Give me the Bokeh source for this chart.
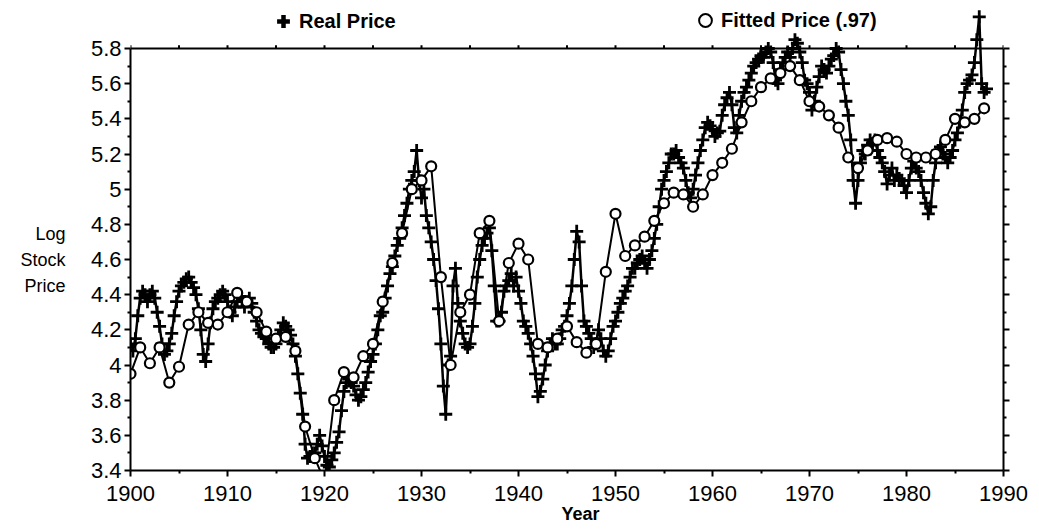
import numpy as np
from bokeh.plotting import figure
from bokeh.models import (Range1d, LinearAxis, FixedTicker, CustomJSTickFormatter,
                          Span, Legend, LegendItem)
from bokeh.embed import file_html
from bokeh.resources import INLINE

# ---------------- data ----------------
# Real price: quarterly readings starting 1900.0
real_start = 1900.0
real_step = 0.25
real_price = [
    4.12, 4.08, 4.15, 4.28,  # 1900
    4.38, 4.42, 4.40, 4.36,  # 1901
    4.40, 4.42, 4.38, 4.30,  # 1902
    4.22, 4.12, 4.06, 4.08,  # 1903
    4.12, 4.18, 4.28, 4.36,  # 1904
    4.42, 4.45, 4.47, 4.49,  # 1905
    4.50, 4.47, 4.44, 4.40,  # 1906
    4.32, 4.20, 4.06, 4.02,  # 1907
    4.12, 4.24, 4.32, 4.36,  # 1908
    4.38, 4.40, 4.42, 4.40,  # 1909
    4.36, 4.30, 4.28, 4.33,  # 1910
    4.36, 4.39, 4.36, 4.33,  # 1911
    4.36, 4.38, 4.35, 4.30,  # 1912
    4.25, 4.20, 4.18, 4.16,  # 1913
    4.15, 4.12, 4.10, 4.10,  # 1914
    4.12, 4.16, 4.20, 4.24,  # 1915
    4.22, 4.20, 4.17, 4.12,  # 1916
    4.05, 3.95, 3.84, 3.72,  # 1917
    3.55, 3.47, 3.48, 3.50,  # 1918
    3.50, 3.55, 3.60, 3.54,  # 1919
    3.48, 3.43, 3.42, 3.46,  # 1920
    3.50, 3.56, 3.62, 3.74,  # 1921
    3.85, 3.90, 3.92, 3.90,  # 1922
    3.88, 3.83, 3.80, 3.82,  # 1923
    3.86, 3.90, 3.96, 4.02,  # 1924
    4.06, 4.12, 4.20, 4.28,  # 1925
    4.30, 4.38, 4.45, 4.52,  # 1926
    4.56, 4.62, 4.68, 4.72,  # 1927
    4.78, 4.85, 4.92, 5.00,  # 1928
    5.05, 5.10, 5.22, 5.05,  # 1929
    4.95, 5.00, 4.85, 4.78,  # 1930
    4.70, 4.60, 4.48, 4.32,  # 1931
    4.12, 3.88, 3.72, 4.00,  # 1932
    4.05, 4.45, 4.55, 4.35,  # 1933
    4.25, 4.18, 4.12, 4.10,  # 1934
    4.12, 4.22, 4.35, 4.50,  # 1935
    4.60, 4.68, 4.72, 4.75,  # 1936
    4.78, 4.65, 4.45, 4.25,  # 1937
    4.25, 4.30, 4.42, 4.45,  # 1938
    4.48, 4.52, 4.45, 4.50,  # 1939
    4.42, 4.35, 4.25, 4.22,  # 1940
    4.18, 4.12, 4.05, 3.95,  # 1941
    3.82, 3.85, 3.92, 4.00,  # 1942
    4.08, 4.12, 4.15, 4.12,  # 1943
    4.12, 4.15, 4.20, 4.22,  # 1944
    4.28, 4.35, 4.45, 4.60,  # 1945
    4.76, 4.70, 4.45, 4.25,  # 1946
    4.22, 4.18, 4.15, 4.10,  # 1947
    4.12, 4.20, 4.15, 4.08,  # 1948
    4.05, 4.08, 4.15, 4.22,  # 1949
    4.25, 4.30, 4.35, 4.38,  # 1950
    4.42, 4.45, 4.50, 4.55,  # 1951
    4.55, 4.58, 4.60, 4.62,  # 1952
    4.58, 4.55, 4.60, 4.65,  # 1953
    4.72, 4.80, 4.90, 5.00,  # 1954
    5.05, 5.10, 5.15, 5.20,  # 1955
    5.20, 5.22, 5.18, 5.15,  # 1956
    5.12, 5.05, 4.98, 4.95,  # 1957
    5.00, 5.08, 5.15, 5.22,  # 1958
    5.28, 5.35, 5.38, 5.36,  # 1959
    5.34, 5.30, 5.32, 5.33,  # 1960
    5.42, 5.48, 5.52, 5.55,  # 1961
    5.48, 5.35, 5.32, 5.42,  # 1962
    5.50, 5.55, 5.58, 5.62,  # 1963
    5.66, 5.70, 5.72, 5.74,  # 1964
    5.76, 5.75, 5.78, 5.80,  # 1965
    5.78, 5.72, 5.62, 5.60,  # 1966
    5.68, 5.72, 5.75, 5.78,  # 1967
    5.75, 5.80, 5.85, 5.83,  # 1968
    5.78, 5.72, 5.62, 5.60,  # 1969
    5.55, 5.45, 5.50, 5.58,  # 1970
    5.64, 5.70, 5.68, 5.66,  # 1971
    5.70, 5.74, 5.76, 5.80,  # 1972
    5.78, 5.68, 5.60, 5.50,  # 1973
    5.42, 5.28, 5.05, 4.92,  # 1974
    5.05, 5.15, 5.22, 5.20,  # 1975
    5.25, 5.28, 5.26, 5.28,  # 1976
    5.22, 5.18, 5.15, 5.10,  # 1977
    5.03, 5.08, 5.12, 5.05,  # 1978
    5.08, 5.06, 5.05, 5.02,  # 1979
    4.98, 5.05, 5.12, 5.16,  # 1980
    5.12, 5.10, 5.05, 4.98,  # 1981
    4.92, 4.86, 4.90, 5.05,  # 1982
    5.15, 5.22, 5.24, 5.20,  # 1983
    5.18, 5.15, 5.18, 5.22,  # 1984
    5.28, 5.32, 5.38, 5.45,  # 1985
    5.55, 5.60, 5.62, 5.65,  # 1986
    5.72, 5.85, 5.98, 5.60,  # 1987
    5.55, 5.57,              # 1988
]

# Fitted price: annual
fitted_years = list(range(1900, 1989))
fitted_price = [
    3.95, 4.10, 4.01, 4.10, 3.90, 3.99, 4.23, 4.30, 4.24, 4.23,  # 1900s
    4.30, 4.41, 4.36, 4.30, 4.19, 4.15, 4.16, 4.08, 3.65, 3.47,  # 1910s
    3.34, 3.80, 3.96, 3.93, 4.05, 4.12, 4.36, 4.58, 4.75, 5.00,  # 1920s
    5.05, 5.13, 4.50, 4.00, 4.30, 4.40, 4.75, 4.82, 4.25, 4.58,  # 1930s
    4.69, 4.60, 4.12, 4.10, 4.15, 4.22, 4.13, 4.07, 4.12, 4.53,  # 1940s
    4.86, 4.62, 4.68, 4.73, 4.82, 4.92, 4.98, 4.97, 4.90, 4.97,  # 1950s
    5.08, 5.15, 5.23, 5.38, 5.50, 5.58, 5.63, 5.66, 5.70, 5.62,  # 1960s
    5.50, 5.47, 5.42, 5.35, 5.18, 5.12, 5.22, 5.28, 5.29, 5.27,  # 1970s
    5.20, 5.18, 5.18, 5.20, 5.28, 5.40, 5.38, 5.40, 5.46,        # 1980s
]

x_ticks = [1900, 1910, 1920, 1930, 1940, 1950, 1960, 1970, 1980, 1990]
x_minor = [1905, 1915, 1925, 1935, 1945, 1955, 1965, 1975, 1985]
y_ticks = [3.4, 3.6, 3.8, 4.0, 4.2, 4.4, 4.6, 4.8, 5.0, 5.2, 5.4, 5.6, 5.8]
y_minor = [3.5, 3.7, 3.9, 4.1, 4.3, 4.5, 4.7, 4.9, 5.1, 5.3, 5.5, 5.7]

x_title = "Year"
x_title_pos = [1946.4]
y_title = "Log\nStock\nPrice"
y_title_pos = [4.6]

real_x = real_start + real_step * np.arange(len(real_price))

FONT = "Liberation Sans"
Y_TOP = 5.8

p = figure(width=1035, height=530,
           x_range=Range1d(1900, 1990), y_range=Range1d(3.4, 6.0275),
           output_backend="svg", toolbar_location=None,
           x_axis_location=None, y_axis_location=None,
           min_border_left=130, min_border_right=32,
           min_border_top=8, min_border_bottom=60)
p.outline_line_color = None
p.xgrid.visible = False
p.ygrid.visible = False
p.background_fill_color = "white"


def style_axis(ax):
    ax.axis_line_width = 2
    ax.axis_line_color = "black"
    ax.major_tick_line_width = 2
    ax.minor_tick_line_width = 2
    ax.major_tick_in = 0
    ax.major_tick_out = 6
    ax.minor_tick_in = 0
    ax.minor_tick_out = 3
    ax.major_label_text_font = FONT
    ax.major_label_text_font_size = "22px"
    ax.major_label_text_color = "black"


def title_axis(ax, size, style):
    ax.axis_line_color = None
    ax.major_tick_line_color = None
    ax.minor_tick_line_color = None
    ax.major_tick_out = 0
    ax.major_tick_in = 0
    ax.minor_tick_out = 0
    ax.minor_tick_in = 0
    ax.major_label_text_font = FONT
    ax.major_label_text_font_size = size
    ax.major_label_text_font_style = style
    ax.major_label_text_color = "black"


xaxis = LinearAxis(ticker=FixedTicker(ticks=x_ticks, minor_ticks=x_minor))
style_axis(xaxis)
xaxis.major_label_standoff = 9
p.add_layout(xaxis, "below")

xtitle = LinearAxis(ticker=FixedTicker(ticks=x_title_pos, minor_ticks=[]),
                    formatter=CustomJSTickFormatter(code="return %r;" % x_title))
title_axis(xtitle, "18px", "bold")
xtitle.major_label_standoff = 0
p.add_layout(xtitle, "below")

yfmt = CustomJSTickFormatter(code="return String(Number(tick.toFixed(2)));")
yaxis = LinearAxis(ticker=FixedTicker(ticks=y_ticks, minor_ticks=y_minor),
                   formatter=yfmt, bounds=(3.4, Y_TOP))
style_axis(yaxis)
yaxis.major_label_standoff = 3
p.add_layout(yaxis, "left")

ytitle = LinearAxis(ticker=FixedTicker(ticks=y_title_pos, minor_ticks=[]),
                    formatter=CustomJSTickFormatter(
                        code="return %s;" % repr(y_title).replace("'", '"')))
title_axis(ytitle, "18px", "normal")
ytitle.major_label_text_line_height = 1.3
ytitle.major_label_standoff = 22
p.add_layout(ytitle, "left")

raxis = LinearAxis(ticker=FixedTicker(ticks=y_ticks, minor_ticks=y_minor),
                   formatter=CustomJSTickFormatter(code="return '';"),
                   bounds=(3.4, Y_TOP))
style_axis(raxis)
p.add_layout(raxis, "right")

# top border line at 5.8 with small ticks every 5 years
p.add_layout(Span(location=Y_TOP, dimension="width", line_color="black", line_width=2))
top_ticks = sorted(x_ticks + x_minor)
p.segment(x0=top_ticks, y0=[Y_TOP] * len(top_ticks), x1=top_ticks,
          y1=[Y_TOP + 0.018] * len(top_ticks), line_color="black", line_width=2)

# real price
p.line(real_x, real_price, line_color="black", line_width=2.5)
p.scatter(real_x, real_price, marker="cross", size=13, line_color="black", line_width=2.8)

# fitted price
p.line(fitted_years, fitted_price, line_color="black", line_width=2)
p.scatter(fitted_years, fitted_price, marker="circle", size=10, line_color="black",
          line_width=2.2, fill_color="white")

# legend-only renderers (one NaN point so nothing is drawn in the frame)
leg_real = p.scatter(x=[np.nan], y=[np.nan], marker="cross", line_color="black", line_width=4.5)
leg_fit = p.scatter(x=[np.nan], y=[np.nan], marker="circle", line_color="black", line_width=2,
                    fill_color="white")


def make_legend(label, rend, loc, standoff):
    lg = Legend(items=[LegendItem(label=label, renderers=[rend])], location=loc)
    lg.border_line_color = None
    lg.background_fill_alpha = 0
    lg.padding = 0
    lg.margin = 0
    lg.spacing = 0
    lg.glyph_width = 32
    lg.glyph_height = 32
    lg.label_standoff = standoff
    lg.label_height = 32
    lg.label_text_font = FONT
    lg.label_text_font_size = "20px"
    lg.label_text_font_style = "bold"
    lg.label_text_color = "black"
    return lg


p.add_layout(make_legend("Real Price", leg_real, (137, 433), -7))
p.add_layout(make_legend("Fitted Price (.97)", leg_fit, (559, 434), -5))

open("out.html", "w").write(file_html(p, INLINE))
